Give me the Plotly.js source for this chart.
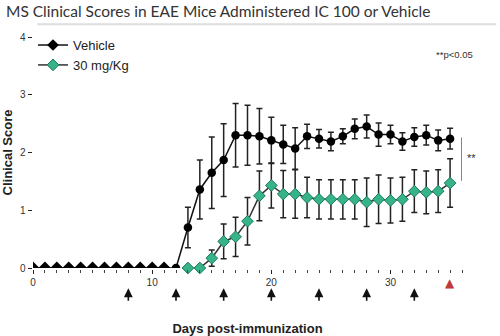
<!DOCTYPE html>
<html><head><meta charset="utf-8">
<script src="https://cdn.plot.ly/plotly-3.0.1.min.js"></script>
<style>body{margin:0;background:#fff}#c{width:500px;height:336px}</style>
</head><body><div id="c"></div>
<script>
const vehDays = [0,1,2,3,4,5,6,7,8,9,10,11,12,13,14,15,16,17,18,19,20,21,22,23,24,25,26,27,28,29,30,31,32,33,34,35];
const vehScore = [0,0,0,0,0,0,0,0,0,0,0,0,0,0.70,1.36,1.65,1.87,2.30,2.30,2.28,2.21,2.14,2.07,2.28,2.24,2.19,2.28,2.41,2.45,2.31,2.31,2.19,2.27,2.30,2.21,2.24];
const vehErr = [0,0,0,0,0,0,0,0,0,0,0,0,0,0.35,0.51,0.62,0.63,0.55,0.52,0.48,0.40,0.33,0.36,0.21,0.16,0.16,0.13,0.17,0.20,0.20,0.16,0.15,0.16,0.17,0.18,0.18];
const drugDays = [13,14,15,16,17,18,19,20,21,22,23,24,25,26,27,28,29,30,31,32,33,34,35];
const drugScore = [0,0,0.17,0.46,0.54,0.81,1.25,1.43,1.28,1.28,1.22,1.19,1.19,1.19,1.19,1.14,1.19,1.17,1.19,1.33,1.31,1.33,1.47];
const drugErr = [0,0,0.14,0.30,0.34,0.41,0.43,0.39,0.41,0.42,0.35,0.34,0.34,0.34,0.34,0.42,0.42,0.39,0.38,0.37,0.37,0.37,0.42];
const dosingDays = [8,12,16,20,24,28,32];
const sacrificeDay = [35];
const xTicks = [0,10,20,30];
const yTicks = [0,1,2,3,4];
const seriesNames = ['Vehicle','30 mg/Kg'];

const vehSymbols = vehDays.map(d => d < 12 ? 'diamond' : 'circle');
const vehSizes = vehDays.map(d => d < 12 ? 10 : 8.5);

const traces = [
  {x: vehDays, y: vehScore, name: seriesNames[0], type:'scatter', mode:'lines+markers', zorder:2, cliponaxis:false,
   line:{color:'#111', width:1.5},
   marker:{symbol:vehSymbols, size:vehSizes, color:'#000', opacity:1, line:{width:0}},
   error_y:{type:'data', array:vehErr, visible:true, color:'#222', thickness:1.5, width:3}},
  {x: drugDays, y: drugScore, name: seriesNames[1], type:'scatter', mode:'lines+markers', zorder:1, cliponaxis:false,
   line:{color:'#333', width:1.5},
   marker:{symbol:'diamond', size:9, color:'#37b38a', opacity:1, line:{color:'#1e7a5c', width:1}},
   error_y:{type:'data', array:drugErr, visible:true, color:'#222', thickness:1.5, width:3}}
];

const annotations = dosingDays.map(d => ({
  x:d, y:-0.088, xref:'x', yref:'paper', ax:0, ay:14, axref:'pixel', ayref:'pixel',
  showarrow:true, arrowhead:2, arrowsize:1.1, arrowwidth:1.6, arrowcolor:'#111', text:''
}));
sacrificeDay.forEach(d => annotations.push({x:d, y:-0.065, xref:'x', yref:'paper', yanchor:'middle', text:'▲', showarrow:false,
  font:{family:'DejaVu Sans', size:12, color:'#c0393b'}}));
annotations.push({x:1.03, y:0.955, xref:'paper', yref:'paper', text:'**p<0.05', showarrow:false,
  xanchor:'right', font:{family:'Liberation Sans, Arial', size:9.5, color:'#333'}});
annotations.push({x:1.037, y:0.475, xref:'paper', yref:'paper', text:'**', showarrow:false,
  font:{family:'Liberation Sans, Arial', size:11, color:'#333'}});

const layout = {
  width:500, height:336,
  margin:{l:33, r:38, t:37, b:68},
  paper_bgcolor:'#fff', plot_bgcolor:'#fff',
  title:{text:'MS Clinical Scores in EAE Mice Administered IC 100 or Vehicle', x:0.012, xanchor:'left', xref:'container',
    y:0.965, yref:'container', yanchor:'middle',
    font:{family:'Lato, Open Sans, sans-serif', size:15.5, color:'#333'}},
  showlegend:true,
  legend:{x:0.0, y:1.03, xanchor:'left', yanchor:'top', bgcolor:'rgba(0,0,0,0)',
    font:{family:'Liberation Sans, Arial', size:13, color:'#222'}, tracegroupgap:2, itemwidth:30},
  xaxis:{range:[0,36], tickvals:xTicks, ticktext:xTicks.map(String), showgrid:false, zeroline:false,
    showline:true, linecolor:'#222', linewidth:1.5, ticks:'outside', ticklen:4, tickcolor:'#222',
    minor:{dtick:1, ticks:'outside', ticklen:3, tickcolor:'#444', showgrid:false},
    tickfont:{family:'Liberation Sans, Arial', size:10, color:'#333'},
    title:{text:'<b>Days post-immunization</b>', standoff:40, font:{family:'Liberation Sans, Arial', size:13, color:'#222'}}},
  yaxis:{range:[0,4], tickvals:yTicks, showgrid:false, zeroline:false,
    showline:true, linecolor:'#222', linewidth:1.5, ticks:'outside', ticklen:4, tickcolor:'#222',
    tickfont:{family:'Liberation Sans, Arial', size:10, color:'#333'},
    title:{text:'<b>Clinical Score</b>', standoff:4, font:{family:'Liberation Sans, Arial', size:13, color:'#222'}}},
  shapes:[
    {type:'line', xref:'paper', yref:'paper', x0:0.01, x1:1.08, y0:1.055, y1:1.055, line:{color:'#ddd', width:2}},
    {type:'line', xref:'x', yref:'y', x0:36, x1:36, y0:1.51, y1:2.26, line:{color:'#333', width:1.2}}
  ],
  annotations: annotations
};
Plotly.newPlot('c', traces, layout, {displayModeBar:false, staticPlot:true});
</script></body></html>
